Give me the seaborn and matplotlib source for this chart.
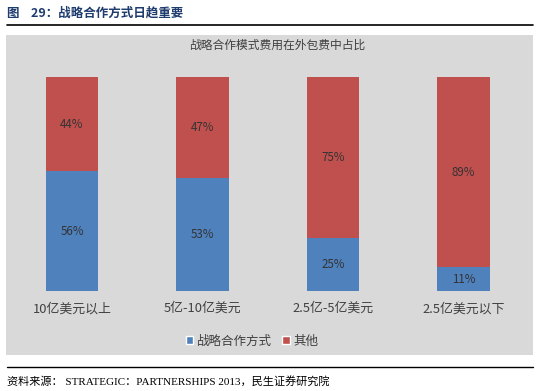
import pandas as pd
import seaborn as sns
import matplotlib.pyplot as plt
from matplotlib.patches import Rectangle, Patch
from matplotlib.lines import Line2D

# data
categories = ['10亿美元以上', '5亿-10亿美元', '2.5亿-5亿美元', '2.5亿美元以下']
strategic = [56, 53, 25, 11]   # 战略合作方式
other = [44, 47, 75, 89]       # 其他

BLUE = '#4F81BD'
RED = '#C0504D'
PANEL = '#D9D9D9'

sns.set_theme(style='white')
plt.rcParams['font.family'] = ['Noto Sans CJK SC', 'DejaVu Sans']

df = pd.DataFrame({'category': categories, 'strategic': strategic, 'other': other})
df['total'] = df['strategic'] + df['other']

W, H = 538, 391
fig = plt.figure(figsize=(W / 100, H / 100), dpi=100)
fig.patch.set_facecolor('white')

# gray chart panel
fig.patches.append(Rectangle((6 / W, 1 - 355 / H), 527 / W, 320 / H,
                             transform=fig.transFigure, facecolor=PANEL,
                             edgecolor='none', zorder=-5))

ax = fig.add_axes([6.75 / W, 1 - 291 / H, 522 / W, 214 / H])
ax.set_facecolor('none')
ax.set_zorder(2)

# stacked bars: full height in red, strategic share in blue on top of it
sns.barplot(data=df, x='category', y='total', color=RED, width=0.4,
            saturation=1, linewidth=0, ax=ax, order=categories)
sns.barplot(data=df, x='category', y='strategic', color=BLUE, width=0.4,
            saturation=1, linewidth=0, ax=ax, order=categories)

ax.set_xlim(-0.5, 3.5)
ax.set_ylim(0, 100)
ax.set_xlabel('')
ax.set_ylabel('')
ax.set_yticks([])
for s in ax.spines.values():
    s.set_visible(False)
ax.tick_params(axis='x', length=0, pad=8, labelsize=9.3, labelcolor='#404040')

# percentage labels centred in each segment
for i, row in df.iterrows():
    ax.text(i, row['strategic'] / 2, f"{row['strategic']}%", ha='center',
            va='center', fontsize=8.3, color='#333333')
    ax.text(i, row['strategic'] + row['other'] / 2, f"{row['other']}%",
            ha='center', va='center', fontsize=8.3, color='#333333')

fig.text(277 / W, 1 - 45 / H, '战略合作模式费用在外包费中占比', ha='center',
         va='center', fontsize=8.5, color='#404040')

handles = [Patch(facecolor=BLUE, label='战略合作方式'),
           Patch(facecolor=RED, label='其他')]
fig.legend(handles=handles, loc='center', bbox_to_anchor=(252 / W, 1 - 341 / H),
           ncol=2, frameon=False, fontsize=9, handlelength=0.6, handleheight=0.6,
           handletextpad=0.3, columnspacing=0.8, labelcolor='#404040')

# report header and footer
fig.text(7 / W, 1 - 13 / H, '图    29：战略合作方式日趋重要', ha='left', va='center',
         fontsize=9, fontweight='bold', color='#1F3C6E')
fig.add_artist(Line2D([7 / W, 533 / W], [1 - 25 / H, 1 - 25 / H], color='black', lw=1.2))
fig.add_artist(Line2D([7 / W, 533 / W], [1 - 367 / H, 1 - 367 / H], color='black', lw=1.0))
fig.text(7 / W, 1 - 381 / H, '资料来源： STRATEGIC：PARTNERSHIPS 2013，民生证券研究院',
         ha='left', va='center', fontsize=8, color='black',
         family=['Liberation Serif', 'Noto Sans CJK SC'])

fig.savefig('out.png', dpi=100)
